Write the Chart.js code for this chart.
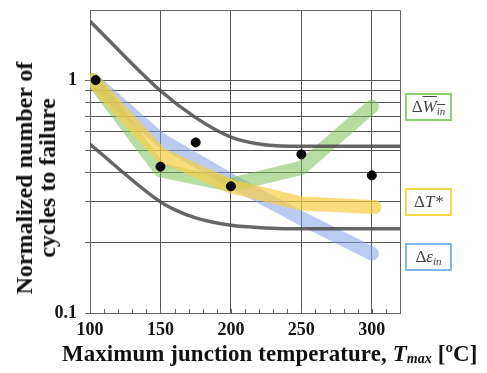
<!DOCTYPE html>
<html>
<head>
<meta charset="utf-8">
<script src="https://cdn.jsdelivr.net/npm/chart.js@4.4.0/dist/chart.umd.min.js"></script>
<style>
  body { margin: 0; background: #fff; }
  #wrap { position: relative; width: 487px; height: 373px; }
  .serif { font-family: "Liberation Serif", "Times New Roman", serif; }
  #xtitle { position: absolute; left: 62px; top: 341px; font-weight: bold; font-size: 22.9px; white-space: nowrap; color: #111; letter-spacing: 0.1px; }
  #xtitle sub { font-size: 14px; vertical-align: -2px; }
  #ytitle { position: absolute; left: 36px; top: 178px; transform: translate(-50%, -50%) rotate(-90deg); font-weight: bold; font-size: 24px; line-height: 23px; white-space: nowrap; text-align: center; color: #111; }
  .lbl { position: absolute; left: 405px; width: 43px; height: 24px; border: 2px solid; font-style: italic; font-size: 17px; color: #444; text-align: center; line-height: 24px; }
  .lbl sub { font-size: 11px; vertical-align: -3px; }
  .lbl .up { font-style: normal; }
</style>
</head>
<body>
<div id="wrap">
  <canvas id="chart" width="487" height="373"></canvas>
  <div id="ytitle" class="serif">Normalized number of<br>cycles to failure</div>
  <div id="xtitle" class="serif">Maximum junction temperature, <i>T<sub>max</sub></i> [ºC]</div>
  <div class="lbl serif" style="top:93px;border-color:#8cd070"><span class="up">Δ</span><span style="text-decoration:overline">W<sub>in</sub></span></div>
  <div class="lbl serif" style="top:188px;border-color:#f6d84a"><span class="up">Δ</span>T*</div>
  <div class="lbl serif" style="top:243px;border-color:#7fb8ef"><span class="up">Δ</span>ε<sub>in</sub></div>
</div>
<script>
// upper / lower bound curves (grey)
const upperX = [100, 150, 175, 200, 225, 250, 320];
const upperY = [1.79, 0.90, 0.69, 0.569, 0.527, 0.52, 0.52];
const lowerX = [100, 150, 160, 175, 200, 225, 250, 320];
const lowerY = [0.53, 0.30, 0.278, 0.256, 0.238, 0.232, 0.23, 0.23];

// predictions
const winX = [102, 150, 200, 250, 300];
const winY = [1.0, 0.41, 0.355, 0.42, 0.77];
const dtX = [102, 150, 200, 250, 302];
const dtY = [1.0, 0.48, 0.35, 0.295, 0.285];
const epsX = [102, 150, 200, 250, 300];
const epsY = [1.0, 0.555, 0.37, 0.255, 0.18];

// experiment
const expX = [104, 150, 175, 200, 250, 300];
const expY = [1.0, 0.425, 0.54, 0.35, 0.48, 0.39];

const yTicks = [0.1, 0.2, 0.3, 0.4, 0.5, 0.6, 0.7, 0.8, 0.9, 1, 2];
const xLabels = [100, 150, 200, 250, 300];
const xGrid = [150, 200, 250, 300];

const pts = (xs, ys) => xs.map((x, i) => ({ x: x, y: ys[i] }));

const band = (xs, ys, color) => ({
  type: 'line',
  data: pts(xs, ys),
  borderColor: color,
  borderWidth: 14,
  borderCapStyle: 'round',
  borderJoinStyle: 'round',
  pointRadius: 0,
  tension: 0,
  fill: false
});

const bound = (xs, ys) => ({
  type: 'line',
  data: pts(xs, ys),
  borderColor: 'rgba(75,75,75,0.85)',
  borderWidth: 3.5,
  pointRadius: 0,
  cubicInterpolationMode: 'monotone',
  fill: false
});

// frame on top/right plus small inner x ticks
const framePlugin = {
  id: 'frame',
  afterDatasetsDraw(chart) {
    const { ctx, chartArea: a, scales } = chart;
    ctx.save();
    ctx.strokeStyle = '#666';
    ctx.lineWidth = 1;
    ctx.beginPath();
    ctx.moveTo(a.left, a.top + 0.5);
    ctx.lineTo(a.right + 0.5, a.top + 0.5);
    ctx.lineTo(a.right + 0.5, a.bottom);
    ctx.stroke();
    ctx.beginPath();
    scales.x.ticks.forEach(t => {
      const px = Math.round(scales.x.getPixelForValue(t.value)) + 0.5;
      ctx.moveTo(px, a.bottom);
      ctx.lineTo(px, a.bottom - 4);
    });
    ctx.stroke();
    ctx.restore();
  }
};

// first dataset is drawn on top
new Chart(document.getElementById('chart'), {
  type: 'line',
  data: {
    datasets: [
      {
        type: 'scatter',
        data: pts(expX, expY),
        backgroundColor: '#000',
        borderColor: '#000',
        pointRadius: 4.5,
        showLine: false
      },
      bound(upperX, upperY),
      bound(lowerX, lowerY),
      band(dtX, dtY, 'rgba(246,206,70,0.7)'),
      band(winX, winY, 'rgba(125,190,85,0.55)'),
      band(epsX, epsY, 'rgba(130,160,225,0.55)')
    ]
  },
  options: {
    responsive: false,
    animation: false,
    layout: { padding: { top: 10, right: 87, left: 0, bottom: 0 } },
    plugins: { legend: { display: false }, tooltip: { enabled: false } },
    scales: {
      x: {
        type: 'linear',
        min: 100,
        max: 320,
        afterFit(s) { s.height = 60; },
        ticks: {
          stepSize: 10,
          autoSkip: false,
          maxRotation: 0,
          padding: 7,
          color: '#111',
          font: { family: 'Liberation Serif', weight: 'bold', size: 18 },
          callback: v => xLabels.includes(v) ? String(v) : ''
        },
        grid: {
          drawTicks: false,
          color: c => xGrid.includes(c.tick && c.tick.value) ? '#555' : 'transparent',
          lineWidth: 1
        },
        border: { color: '#666', width: 1 }
      },
      y: {
        type: 'logarithmic',
        min: 0.1,
        max: 2,
        afterBuildTicks(s) { s.ticks = yTicks.map(v => ({ value: v })); },
        afterFit(s) { s.width = 90; },
        ticks: {
          autoSkip: false,
          padding: 8,
          color: '#111',
          font: { family: 'Liberation Serif', weight: 'bold', size: 18, lineHeight: 0.1 },
          callback: v => (v === 1 ? '1' : v === 0.1 ? '0.1' : '')
        },
        grid: {
          tickLength: 5,
          color: c => (c.tick && c.tick.value >= 0.2 && c.tick.value <= 1) ? '#555' : 'transparent',
          tickColor: c => (c.tick && c.tick.value < 2) ? '#666' : 'transparent',
          lineWidth: 1
        },
        border: { color: '#666', width: 1 }
      }
    }
  },
  plugins: [framePlugin]
});
</script>
</body>
</html>
